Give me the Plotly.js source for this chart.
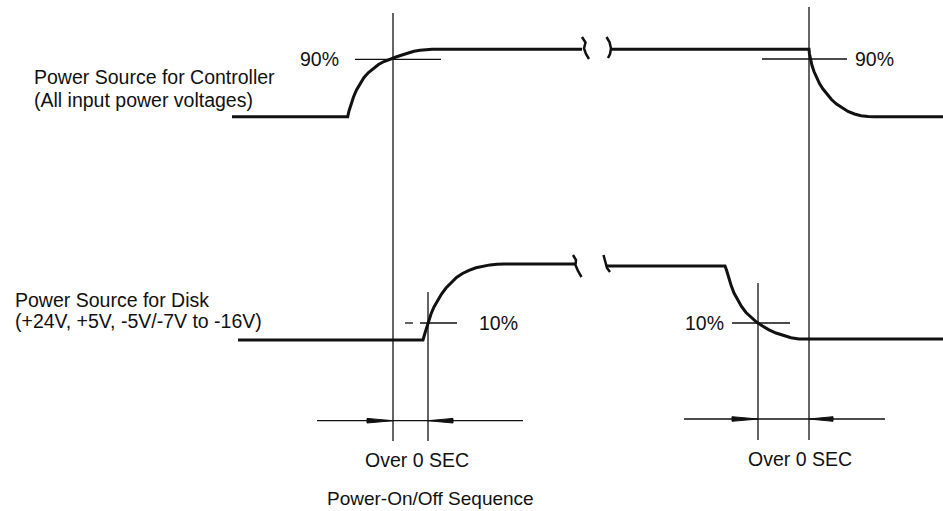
<!DOCTYPE html>
<html>
<head>
<meta charset="utf-8">
<script src="https://cdn.plot.ly/plotly-3.0.1.min.js"></script>
<style>html,body{margin:0;padding:0;background:#fff;}#chart{width:943px;height:511px;}</style>
</head>
<body>
<div id="chart"></div>
<script>
// Waveform: Power Source for Controller (rise, then fall)
const ctrlRiseX = [232,347.7,349,351,353.5,356.5,360,364,368.5,373.5,378.5,384,390,396,402,408,414,420,426,432,582];
const ctrlRiseY = [116.7,116.7,111,104,97,90,83.5,77.5,72.5,68,64.5,61.5,59,57,55,53,51.3,50.2,49.5,49.3,49.3];
const ctrlFallX = [610,809,809.5,810.5,812,814,816.5,819.5,823,827,831.5,836.5,842,848,854.5,861,868,874,943];
const ctrlFallY = [49.3,49.3,54,59.5,65.5,71.5,77.5,83.5,89,94.5,99.5,104,108,111.5,114,115.8,116.6,116.7,116.7];
// Waveform: Power Source for Disk
const diskRiseX = [238,423,425,427,428.5,431,434,437.5,441.5,446,451,456.5,462.5,469,476,483,490,497,504,575];
const diskRiseY = [340,340,333,326,321,314,307,300.5,294,288,282.5,277.5,273.5,270.3,267.8,266,264.9,264.3,264,264];
const diskFallX = [607,725,726.5,728.5,731,734,737.5,741.5,746,751,756.5,762.5,769,776,783.5,791,799,943];
const diskFallY = [266,266,270,277,285,293,300,306.5,312.5,317.5,322,326,329.8,333,335.8,337.8,339,339];
// Break marks
const breakX = [582,585.5,584,586,589,null,606.5,609.5,611,610,608,null,573,576,575.5,578,581.5,null,603.5,605.5,607,610];
const breakY = [37,42.5,48.5,54,59,null,37,42,48.5,54,58,null,255,260,265,271,277,null,255,262,268,272];
// Thin reference lines (verticals, level markers, time arrows)
const refX = [393,393,null,809,809,null,428,428,null,758,758,null,
              355,441,null,762,847,null,405,413,null,420,457,null,732,790,null,
              317,523,null,684,885];
const refY = [13,441,null,7,440,null,292,441,null,283,440,null,
              59.3,59.3,null,59,59,null,323,323,null,323,323,null,323,323,null,
              420.7,420.7,null,419,419];
// Arrowheads (pointing toward the timing lines)
const arrowX = [367,393,367,367,null,453,428,453,453,null,732,758,732,732,null,833,809,833,833];
const arrowY = [418.4,420.7,423,418.4,null,418.4,420.7,423,418.4,null,416.7,419,421.3,416.7,null,416.7,419,421.3,416.7];
// Text labels
const labelText = ["Power Source for Controller","(All input power voltages)","Power Source for Disk","(+24V, +5V, -5V/-7V to -16V)","90%","90%","10%","10%","Over 0 SEC","Over 0 SEC","Power-On/Off Sequence"];
const labelX = [32,32,13,13,298,853,477,683,417,800,430];
const labelY = [77,100,300,321,59,59,323,323,460,459,498];
const labelAnchor = ["left","left","left","left","left","left","left","left","center","center","center"];

const ink = "#111";
const traces = [
  {x: refX, y: refY, mode: "lines", line: {color: ink, width: 1.3}, connectgaps: false, hoverinfo: "skip"},
  {x: arrowX, y: arrowY, mode: "lines", fill: "toself", fillcolor: ink, line: {color: ink, width: 1}, hoverinfo: "skip"},
  {x: ctrlRiseX, y: ctrlRiseY, mode: "lines", line: {color: ink, width: 3}, hoverinfo: "skip"},
  {x: ctrlFallX, y: ctrlFallY, mode: "lines", line: {color: ink, width: 3}, hoverinfo: "skip"},
  {x: diskRiseX, y: diskRiseY, mode: "lines", line: {color: ink, width: 3}, hoverinfo: "skip"},
  {x: diskFallX, y: diskFallY, mode: "lines", line: {color: ink, width: 3}, hoverinfo: "skip"},
  {x: breakX, y: breakY, mode: "lines", line: {color: ink, width: 2.5}, connectgaps: false, hoverinfo: "skip"}
];

const annotations = labelText.map((t, i) => ({
  text: t, x: labelX[i], y: labelY[i], xref: "x", yref: "y",
  xanchor: labelAnchor[i], yanchor: "middle", showarrow: false,
  font: {family: "Liberation Sans, Arial, sans-serif", size: i === 10 ? 19 : 19.5, color: ink}
}));

const layout = {
  width: 943, height: 511, autosize: false,
  margin: {l: 0, r: 0, t: 0, b: 0, pad: 0},
  paper_bgcolor: "#fff", plot_bgcolor: "#fff",
  showlegend: false,
  xaxis: {range: [0, 943], visible: false, fixedrange: true},
  yaxis: {range: [511, 0], visible: false, fixedrange: true},
  annotations: annotations
};

Plotly.newPlot("chart", traces, layout, {staticPlot: true, displayModeBar: false});
</script>
</body>
</html>
